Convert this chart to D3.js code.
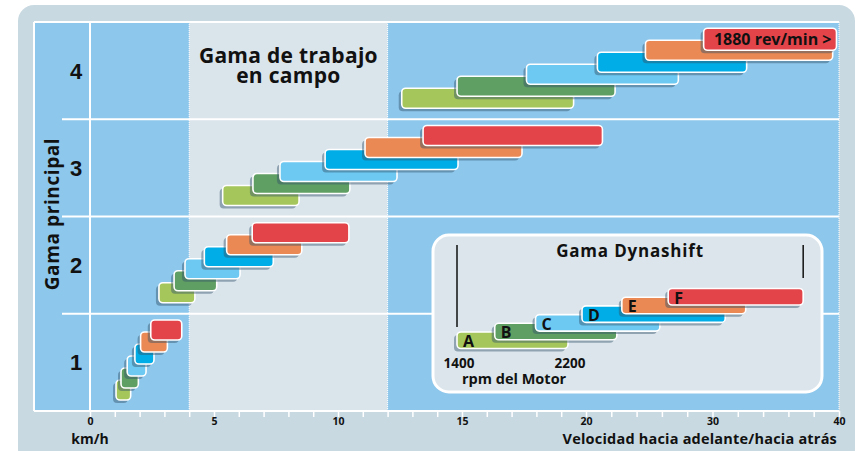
<!DOCTYPE html>
<html>
<head>
<meta charset="utf-8">
<script src="https://cdn.jsdelivr.net/npm/d3@7/dist/d3.min.js"></script>
<style>
  body { margin: 0; background: #fff; }
  svg { display: block; }
  text { font-family: "Open Sans", Lato, sans-serif; font-weight: bold; fill: #111; }
</style>
</head>
<body>
<svg id="chart" width="858" height="451"></svg>
<script>
// main gears (rows) and Dynashift ranges inside each gear
const gears = [4, 3, 2, 1];
const ranges = ['A', 'B', 'C', 'D', 'E', 'F'];
const rangeColors = ['#a4c65a', '#609f63', '#6dc9f1', '#00ade6', '#ea8953', '#e3444a'];

// speed span [from, to] in km/h for ranges A..F
const gear1 = [[1.05, 1.64], [1.25, 1.95], [1.5, 2.26], [1.81, 2.58], [2.04, 3.12], [2.45, 3.7]];
const gear2 = [[2.78, 4.23], [3.39, 5.11], [3.83, 6.05], [4.61, 7.39], [5.51, 8.54], [6.54, 10.44]];
const gear3 = [[5.35, 8.43], [6.57, 10.48], [7.66, 12.38], [9.48, 14.84], [11.09, 17.42], [13.43, 21.3]];
const gear4 = [[12.57, 19.5], [14.8, 22.3], [17.6, 27.3], [20.9, 32.7], [24.7, 39.5], [29.3, 39.8]];
const gearSpans = { 1: gear1, 2: gear2, 3: gear3, 4: gear4 };

const fieldRange = [4, 12];
const xTicks = d3.range(0, 20, 1).concat(d3.range(20, 41, 2));
const xTickLabels = [0, 5, 10, 15, 20, 30, 40];

// Dynashift inset (engine rpm)
const insetFrom = [1400, 1672, 1966, 2301, 2588, 2922];
const insetTo = [2200, 2552, 2862, 3333, 3481, 3895];
const insetMarks = [1400, 3895];
const insetLabels = [1400, 2200];

const svg = d3.select('#chart');

// outer panel
svg.append('rect')
  .attr('x', 18).attr('y', 5).attr('width', 837).attr('height', 460)
  .attr('rx', 16).attr('fill', '#c9d9e1');

const plotLeft = 34, plotRight = 839, plotTop = 22, plotBottom = 411;

const x = d3.scaleLinear().domain([0, 20, 40]).range([90, 586, 839]);
const y = d3.scaleBand().domain(gears).range([plotTop, plotBottom]);

// plot background
svg.append('rect')
  .attr('x', plotLeft).attr('y', plotTop)
  .attr('width', plotRight - plotLeft).attr('height', plotBottom - plotTop)
  .attr('fill', '#8dc7ec');

svg.append('rect')
  .attr('x', x(fieldRange[0])).attr('y', plotTop)
  .attr('width', x(fieldRange[1]) - x(fieldRange[0])).attr('height', plotBottom - plotTop)
  .attr('fill', '#dae4eb');

// dotted band edges
[x(fieldRange[0]), x(fieldRange[1]), plotRight].forEach(px => {
  svg.append('line')
    .attr('x1', px).attr('x2', px).attr('y1', plotTop).attr('y2', plotBottom)
    .attr('stroke', '#fff').attr('stroke-width', 1).attr('stroke-dasharray', '1,1');
});

// grid lines
const grid = svg.append('g').attr('stroke', '#fff').attr('stroke-width', 2);
grid.append('line').attr('x1', plotLeft).attr('x2', plotRight).attr('y1', plotTop).attr('y2', plotTop);
grid.append('line').attr('x1', plotLeft).attr('x2', plotRight).attr('y1', plotBottom).attr('y2', plotBottom);
grid.append('line').attr('x1', plotLeft).attr('x2', plotLeft).attr('y1', plotTop).attr('y2', plotBottom);
grid.append('line').attr('x1', x(0)).attr('x2', x(0)).attr('y1', plotTop).attr('y2', plotBottom);
gears.slice(1).forEach(g => {
  grid.append('line')
    .attr('x1', 62).attr('x2', plotRight)
    .attr('y1', y(g)).attr('y2', y(g));
});

// x axis
const xAxis = svg.append('g')
  .attr('transform', `translate(0,${plotBottom})`)
  .call(d3.axisBottom(x)
    .tickValues(xTicks)
    .tickSize(6)
    .tickPadding(1)
    .tickFormat(d => xTickLabels.includes(d) ? d : ''));
xAxis.select('.domain').remove();
xAxis.selectAll('.tick line').attr('stroke', '#fff').attr('stroke-width', 1.5);
xAxis.selectAll('.tick text').style('font-family', '"Open Sans", sans-serif')
  .style('font-weight', 'bold').style('font-size', '10.5px').attr('fill', '#111');

svg.append('text')
  .attr('x', x(0)).attr('y', 444).attr('text-anchor', 'middle')
  .style('font-size', '14px').text('km/h');

svg.append('text')
  .attr('x', 837).attr('y', 444).attr('text-anchor', 'end')
  .style('font-size', '14.5px').style('letter-spacing', '0.2px')
  .text('Velocidad hacia adelante/hacia atrás');

// y labels
gears.forEach(g => {
  svg.append('text')
    .attr('x', 76).attr('y', y(g) + y.bandwidth() / 2 + 8)
    .attr('text-anchor', 'middle')
    .style('font-family', '"Liberation Sans", Arial, sans-serif')
    .style('font-size', '22px')
    .text(g);
});

svg.append('text')
  .attr('transform', 'translate(59,214) rotate(-90)')
  .attr('text-anchor', 'middle')
  .style('font-size', '19px').style('letter-spacing', '0.6px')
  .text('Gama principal');

// field work title
const fieldMid = (x(fieldRange[0]) + x(fieldRange[1])) / 2;
const fieldTitle = svg.append('text')
  .attr('text-anchor', 'middle')
  .style('font-size', '21px').style('letter-spacing', '0.3px');
fieldTitle.append('tspan').attr('x', fieldMid).attr('y', 63).text('Gama de trabajo');
fieldTitle.append('tspan').attr('x', fieldMid).attr('y', 83).text('en campo');

// bars
const barH = 20;
function drawBar(parent, x0, x1, yy, h, color) {
  parent.append('rect')
    .attr('x', x0 - 3).attr('y', yy + 3)
    .attr('width', x1 - x0).attr('height', h)
    .attr('rx', 4)
    .attr('fill', '#34536a').attr('opacity', 0.45);
  parent.append('rect')
    .attr('x', x0).attr('y', yy)
    .attr('width', x1 - x0).attr('height', h)
    .attr('rx', 4)
    .attr('fill', color)
    .attr('stroke', '#fff').attr('stroke-width', 1.6);
}

gears.slice().reverse().forEach(g => {
  const rowBottom = y(g) + y.bandwidth();
  const slot = d3.scaleLinear().domain([0, 5]).range([rowBottom - 31, rowBottom - 91]);
  const gBars = svg.append('g');
  gearSpans[g].forEach((span, i) => {
    drawBar(gBars, x(span[0]), x(span[1]), slot(i), i === 5 && g === 4 ? 22 : barH, rangeColors[i]);
  });
});

// top red bar label
svg.append('text')
  .attr('x', x(gear4[5][1]) - 5).attr('y', y(4) + 22.5)
  .attr('text-anchor', 'end')
  .style('font-size', '16px')
  .text('1880 rev/min >');

// Dynashift inset
const inset = svg.append('g');
inset.append('rect')
  .attr('x', 433).attr('y', 235).attr('width', 389).attr('height', 157)
  .attr('rx', 16)
  .attr('fill', '#dbe5eb')
  .attr('stroke', '#fff').attr('stroke-width', 3);

const rpm = d3.scaleLinear().domain([1400, 2200]).range([457, 568]);
const insetSlot = d3.scaleLinear().domain([0, 5]).range([332, 288.5]);

inset.append('text')
  .attr('x', 630).attr('y', 257).attr('text-anchor', 'middle')
  .style('font-size', '17px').style('letter-spacing', '0.8px').text('Gama Dynashift');

inset.append('line')
  .attr('x1', rpm(insetMarks[0])).attr('x2', rpm(insetMarks[0]))
  .attr('y1', 245).attr('y2', 327)
  .attr('stroke', '#111').attr('stroke-width', 1.5);
inset.append('line')
  .attr('x1', rpm(insetMarks[1])).attr('x2', rpm(insetMarks[1]))
  .attr('y1', 245).attr('y2', 278)
  .attr('stroke', '#111').attr('stroke-width', 1.5);

ranges.forEach((r, i) => {
  drawBar(inset, rpm(insetFrom[i]), rpm(insetTo[i]), insetSlot(i), 16.5, rangeColors[i]);
  inset.append('text')
    .attr('x', rpm(insetFrom[i]) + 6).attr('y', insetSlot(i) + 15)
    .style('font-size', '16px')
    .text(r);
});

insetLabels.forEach(v => {
  inset.append('text')
    .attr('x', rpm(v) + 2).attr('y', 368).attr('text-anchor', 'middle')
    .style('font-size', '13.5px').text(v);
});
inset.append('text')
  .attr('x', 462).attr('y', 384)
  .style('font-size', '14.5px').text('rpm del Motor');
</script>
</body>
</html>
